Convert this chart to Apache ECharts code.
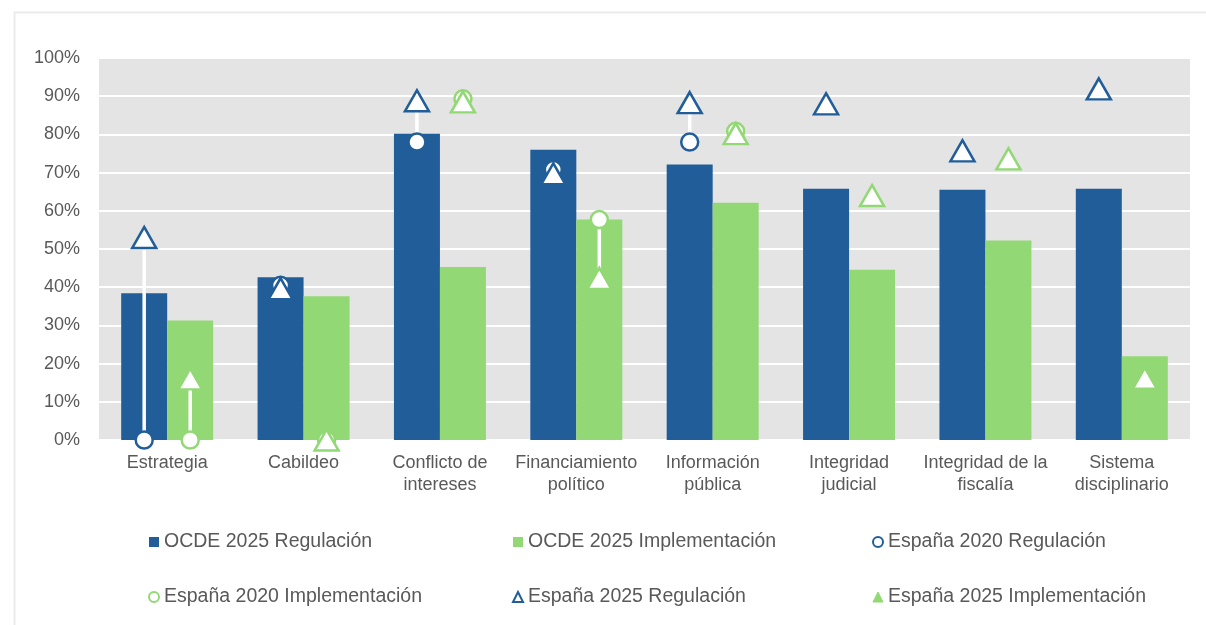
<!DOCTYPE html>
<html><head><meta charset="utf-8">
<script src="https://cdn.jsdelivr.net/npm/echarts@6/dist/echarts.min.js"></script>
<style>html,body{margin:0;padding:0;background:#fff}#c{width:1206px;height:625px}</style>
</head><body><div id="c"></div>
<script>
var categories = ['Estrategia','Cabildeo','Conflicto de\nintereses','Financiamiento\npolítico','Información\npública','Integridad\njudicial','Integridad de la\nfiscalía','Sistema\ndisciplinario'];
var ocdeRegulacion     = [38.4, 42.6, 80.2, 76.0, 72.1, 65.8, 65.5, 65.8];
var ocdeImplementacion = [31.3, 37.6, 45.3, 57.7, 62.1, 44.6, 52.2, 21.9];
var espana2020Regulacion     = [0, 40.5, 78.0, 70.8, 78.0, null, null, null];
var espana2020Implementacion = [0, 0, 89.3, 57.7, 80.8, null, null, null];
var espana2025Regulacion     = [53.0, 39.6, 88.8, 69.7, 88.3, 88.0, 75.7, 91.9];
var espana2025Implementacion = [16.0, 0, 88.5, 42.3, 80.2, 64.0, 73.6, 16.2];
var yTicks = [0,10,20,30,40,50,60,70,80,90,100];

var BLUE = '#215e99', GREEN = '#92d874', TXT = '#595959';
var OFF = 23;
function clean(a){ return a.map(function(v){ return v == null ? '-' : v; }); }
function pairs(a, b){ return a.map(function(v, i){ return [i, v == null ? '-' : v, b[i] == null ? '-' : b[i]]; }); }
function connector(off){
  return function(params, api){
    var a = api.value(1), b = api.value(2);
    if (isNaN(a) || isNaN(b)) return null;
    var p1 = api.coord([api.value(0), a]), p2 = api.coord([api.value(0), b]);
    return {type:'line', shape:{x1:p1[0]+off, y1:p1[1], x2:p2[0]+off, y2:p2[1]}, style:{stroke:'#ffffff', lineWidth:3.5}};
  };
}
var chart = echarts.init(document.getElementById('c'));
var legendText = {color: TXT, fontSize: 19.5, fontFamily: 'Liberation Sans, Arial, sans-serif'};
function legendCol(left, items){
  return {orient:'vertical', left:left, top:527, itemGap:35, itemWidth:10, itemHeight:10, textStyle:legendText, selectedMode:false, data:items};
}
chart.setOption({
  animation:false,
  backgroundColor:'#ffffff',
  graphic:[{type:'rect', left:12, top:10, shape:{width:1300, height:700}, style:{fill:'none', stroke:'#ebebeb', lineWidth:2}, z:-10}],
  grid:{left:99, right:16, top:58, bottom:185, show:true, backgroundColor:'#e4e4e4', borderWidth:0},
  xAxis:{type:'category', data:categories, axisLine:{show:false}, axisTick:{show:false},
    axisLabel:{color:TXT, fontSize:18, fontFamily:'Liberation Sans, Arial, sans-serif', lineHeight:22, margin:12, interval:0}},
  yAxis:{type:'value', min:0, max:100, interval:10, axisLine:{show:false}, axisTick:{show:false},
    splitLine:{lineStyle:{color:'#ffffff', width:2}},
    axisLabel:{color:TXT, fontSize:18, fontFamily:'Liberation Sans, Arial, sans-serif', margin:19, formatter:'{value}%'}},
  legend:[
    legendCol(143, [
      {name:'OCDE 2025 Regulación', icon:'rect', itemStyle:{color:BLUE}},
      {name:'España 2020 Implementación', icon:'circle', itemStyle:{color:'#fff', borderColor:GREEN, borderWidth:2}}]),
    legendCol(507, [
      {name:'OCDE 2025 Implementación', icon:'rect', itemStyle:{color:GREEN}},
      {name:'España 2025 Regulación', icon:'triangle', itemStyle:{color:'#fff', borderColor:BLUE, borderWidth:2}}]),
    legendCol(867, [
      {name:'España 2020 Regulación', icon:'circle', itemStyle:{color:'#fff', borderColor:BLUE, borderWidth:2}},
      {name:'España 2025 Implementación', icon:'triangle', itemStyle:{color:GREEN, borderColor:GREEN, borderWidth:1}}])
  ],
  series:[
    {name:'OCDE 2025 Regulación', type:'bar', data:ocdeRegulacion, barWidth:46, barGap:'0%', itemStyle:{color:BLUE}, z:1},
    {name:'OCDE 2025 Implementación', type:'bar', data:ocdeImplementacion, barWidth:46, barGap:'0%', itemStyle:{color:GREEN}, z:1},
    {name:'conn-reg', type:'custom', data:pairs(espana2020Regulacion, espana2025Regulacion), encode:{x:0, y:[1,2]}, renderItem:connector(-OFF), z:3, silent:true},
    {name:'conn-imp', type:'custom', data:pairs(espana2020Implementacion, espana2025Implementacion), encode:{x:0, y:[1,2]}, renderItem:connector(OFF), z:3, silent:true},
    {name:'España 2020 Regulación', type:'scatter', data:clean(espana2020Regulacion), symbol:'circle', symbolSize:17, symbolOffset:[-OFF,0],
      itemStyle:{color:'#ffffff', borderColor:BLUE, borderWidth:2.5, opacity:1}, z:4},
    {name:'España 2020 Implementación', type:'scatter', data:clean(espana2020Implementacion), symbol:'circle', symbolSize:17, symbolOffset:[OFF,0],
      itemStyle:{color:'#ffffff', borderColor:GREEN, borderWidth:2.5, opacity:1}, z:4},
    {name:'España 2025 Regulación', type:'scatter', data:clean(espana2025Regulacion), symbol:'triangle', symbolSize:[24,21], symbolOffset:[-OFF,0],
      itemStyle:{color:'#ffffff', borderColor:BLUE, borderWidth:2.5, opacity:1}, z:5},
    {name:'España 2025 Implementación', type:'scatter', data:clean(espana2025Implementacion), symbol:'triangle', symbolSize:[24,21], symbolOffset:[OFF,0],
      itemStyle:{color:'#ffffff', borderColor:GREEN, borderWidth:2.5, opacity:1}, z:5}
  ]
});
</script></body></html>
